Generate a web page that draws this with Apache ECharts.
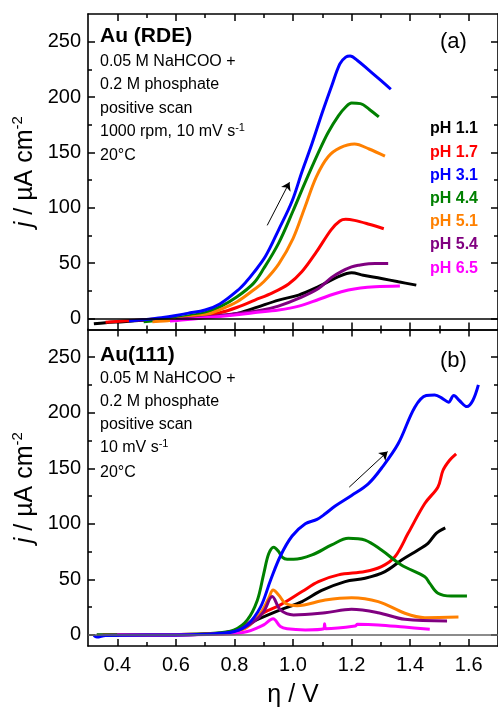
<!DOCTYPE html>
<html>
<head>
<meta charset="utf-8">
<script src="https://cdn.jsdelivr.net/npm/echarts@6/dist/echarts.min.js"></script>
<style>
html,body{margin:0;padding:0;background:#fff;}
#chart{width:498px;height:711px;}
</style>
</head>
<body>
<div id="chart"></div>
<script>
// ---------- DATA ----------
const seriesNames = ['pH 1.1','pH 1.7','pH 3.1','pH 4.4','pH 5.1','pH 5.4','pH 6.5'];
const seriesColors = ['#000000','#ff0000','#0000ff','#008000','#ff8000','#800080','#ff00ff'];

const xMajorTicks = [0.4,0.6,0.8,1.0,1.2,1.4,1.6];
const xMinorTicks = [0.5,0.7,0.9,1.1,1.3,1.5];
const yMajorTicks = [0,50,100,150,200,250];
const yMinorTicks = [25,75,125,175,225];

// (a) Au (RDE)
const topPH11 = [[0.32,-5],[0.36,-4],[0.42,-3],[0.5,-1.5],[0.6,0],[0.7,1.5],[0.8,4],[0.865,9],[0.951,16.5],[1.019,21],[1.087,28.6],[1.155,37.6],[1.2,41.2],[1.24,39],[1.302,36],[1.36,33],[1.421,30]];
const topPH17 = [[0.36,-3.5],[0.42,-2.5],[0.5,-1.2],[0.6,0.3],[0.68,2],[0.75,5],[0.81,10],[0.87,16.5],[0.93,23],[0.985,31],[1.03,42],[1.08,60],[1.13,80],[1.16,88],[1.18,89.5],[1.21,88.5],[1.26,85],[1.31,81]];
const topPH31 = [[0.44,-2.5],[0.5,-1],[0.55,0.5],[0.6,2.5],[0.64,4.5],[0.7,7.5],[0.75,13],[0.81,25],[0.84,33],[0.865,41],[0.906,56],[0.951,80],[0.997,106],[1.03,132],[1.065,158],[1.1,186],[1.132,210],[1.16,230],[1.18,236],[1.195,237],[1.22,233],[1.26,224],[1.3,215],[1.334,207]];
const topPH44 = [[0.49,-3],[0.55,-1.5],[0.6,0],[0.65,2.5],[0.7,5],[0.752,10.5],[0.809,19.5],[0.865,31.6],[0.9,45],[0.951,68],[1.0,97],[1.04,122],[1.087,150],[1.12,168],[1.155,183],[1.18,191],[1.2,194.5],[1.23,194],[1.26,189],[1.293,182]];
const topPH51 = [[0.52,-3],[0.56,-2.5],[0.6,-1],[0.65,1],[0.7,3],[0.752,8],[0.809,15],[0.865,25.6],[0.9,33],[0.951,49],[1.0,72],[1.04,100],[1.08,128],[1.12,146],[1.16,154],[1.21,157.5],[1.26,153],[1.314,146.5]];
const topPH54 = [[0.6,-1],[0.7,1],[0.816,4.5],[0.895,7.5],[0.95,11],[1.019,18],[1.087,27],[1.132,37],[1.166,42.5],[1.2,46.5],[1.223,48],[1.28,49.5],[1.325,49.5]];
const topPH65 = [[0.58,-2.5],[0.62,-1.5],[0.7,0.5],[0.8,3],[0.865,5],[0.951,7.5],[1.02,11],[1.087,17],[1.14,22],[1.189,25.6],[1.23,27.5],[1.28,28.6],[1.365,29.2]];

// (b) Au(111)
const botPH11 = [[0.33,0],[0.5,0],[0.7,0.5],[0.8,3.5],[0.872,13],[0.957,22.5],[1.031,30],[1.098,40],[1.178,48],[1.246,51],[1.314,57],[1.371,67.4],[1.427,76.4],[1.461,82.4],[1.489,91.4],[1.52,96.4]];
const botPH17 = [[0.35,0],[0.5,0],[0.65,0.5],[0.75,1.5],[0.8,4],[0.85,11],[0.9,20],[0.957,27],[1.031,39],[1.087,47.9],[1.155,54],[1.246,57],[1.302,61.4],[1.348,70.3],[1.393,91.4],[1.45,118.3],[1.495,133.2],[1.512,148],[1.534,157],[1.557,163]];
const botPH31 = [[0.32,-0.5],[0.33,-2],[0.36,-0.5],[0.5,0],[0.6,0],[0.7,0.5],[0.75,1.5],[0.8,3],[0.844,9],[0.889,25],[0.923,49],[0.957,71],[0.997,89],[1.042,100],[1.082,104],[1.11,109],[1.144,116],[1.2,125.5],[1.257,136],[1.302,150],[1.359,172],[1.416,205],[1.455,215.5],[1.484,216],[1.512,212.5],[1.531,209.5],[1.549,215.5],[1.568,211],[1.594,205.5],[1.614,211],[1.633,225]];
const botPH44 = [[0.33,0],[0.5,0],[0.65,0.5],[0.75,2],[0.8,4.5],[0.844,13.5],[0.878,31],[0.9,55],[0.917,73],[0.934,79],[0.951,75],[0.963,70],[0.98,68],[1.002,68],[1.065,72],[1.132,81],[1.189,87],[1.246,85.3],[1.302,76.4],[1.37,63],[1.45,52.4],[1.467,46.4],[1.495,37.5],[1.54,35],[1.594,35]];
const botPH51 = [[0.4,0],[0.6,0],[0.75,1],[0.8,2.5],[0.844,7],[0.889,19.5],[0.917,33],[0.932,40.4],[0.951,36],[0.974,28.5],[1.014,26.3],[1.11,31.4],[1.2,33.5],[1.291,30],[1.382,19.5],[1.45,15.5],[1.565,16]];
const botPH54 = [[0.4,0],[0.6,0],[0.75,1],[0.8,2.5],[0.867,12],[0.9,21],[0.929,34.5],[0.957,22.5],[1.002,18],[1.11,20],[1.2,23],[1.291,20],[1.382,14],[1.526,12.6]];
const botPH65 = [[0.4,0],[0.6,0],[0.8,1],[0.844,3],[0.884,7],[0.9,9],[0.932,14.5],[0.957,7.5],[0.98,5.5],[1.042,4.5],[1.105,5.5],[1.108,10],[1.112,5.5],[1.212,8],[1.22,9.5],[1.291,9],[1.38,7],[1.467,5]];

const topArrow = [[0.912,84],[0.988,123]];
const botArrow = [[1.192,133],[1.323,165]];

// ---------- CHART ----------
const FF = "'Liberation Sans', Arial, Helvetica, sans-serif";
const chart = echarts.init(document.getElementById('chart'), null, {renderer:'canvas'});

const grids = [
  {left:88, top:14, width:412, height:315.4},
  {left:88, top:329.4, width:412, height:316.6}
];

function xAx(g, pos, ticks, len, line, labels, name) {
  const a = {
    type:'value', gridIndex:g, position:pos, min:0.3, max:1.7,
    axisLine:{show:line, onZero:false, lineStyle:{color:'#000', width:1.6}},
    axisTick:{show:true, inside:true, length:len, customValues:ticks, lineStyle:{color:'#000', width:1.5}},
    axisLabel:{show:labels, customValues:xMajorTicks, margin:9, color:'#000', fontSize:20, fontFamily:FF,
      formatter:v=>v.toFixed(1)},
    splitLine:{show:false}
  };
  if (name) {
    a.name = 'η / V'; a.nameLocation = 'middle'; a.nameGap = 37;
    a.nameTextStyle = {color:'#000', fontSize:25, fontFamily:FF};
  }
  return a;
}
function yAx(g, pos, ticks, len, line, labels, name) {
  const a = {
    type:'value', gridIndex:g, position:pos, min:-10, max:275,
    axisLine:{show:line, onZero:false, lineStyle:{color:'#000', width:1.6}},
    axisTick:{show:true, inside:true, length:len, customValues:ticks, lineStyle:{color:'#000', width:1.5}},
    axisLabel:{show:labels, customValues:yMajorTicks, margin:7, color:'#000', fontSize:20, fontFamily:FF},
    splitLine:{show:false}
  };
  if (name) {
    a.name = '{i|j} / µA cm{sup|-2}';
    a.nameLocation = 'middle'; a.nameGap = 48; a.nameRotate = 90; a.nameMoveOverlap = false;
    a.nameTextStyle = {color:'#000', fontSize:25, fontFamily:FF, lineHeight:30,
      rich:{
        i:{fontStyle:'italic', fontSize:25, fontFamily:FF, color:'#000', lineHeight:30},
        sup:{fontSize:15, fontFamily:FF, color:'#000', lineHeight:16, verticalAlign:'top'}
      }};
  }
  return a;
}

const xAxes = [];
const yAxes = [];
for (let g=0; g<2; g++) {
  xAxes.push(xAx(g,'bottom',xMajorTicks,7,true,g===1,g===1));
  xAxes.push(xAx(g,'bottom',xMinorTicks,4,false,false,false));
  xAxes.push(xAx(g,'top',xMajorTicks,7,true,false,false));
  xAxes.push(xAx(g,'top',xMinorTicks,4,false,false,false));
  yAxes.push(yAx(g,'left',yMajorTicks,7,true,true,true));
  yAxes.push(yAx(g,'left',yMinorTicks,4,false,false,false));
  yAxes.push(yAx(g,'right',yMajorTicks,7,true,false,false));
  yAxes.push(yAx(g,'right',yMinorTicks,4,false,false,false));
}

const topData = [topPH11,topPH17,topPH31,topPH44,topPH51,topPH54,topPH65];
const botData = [botPH11,botPH17,botPH31,botPH44,botPH51,botPH54,botPH65];

const series = [];
function addSeries(dataArr, g) {
  dataArr.forEach((d,i)=>{
    series.push({
      name:seriesNames[i], type:'line', xAxisIndex:4*g, yAxisIndex:4*g,
      data:d, showSymbol:false, symbol:'none', smooth:0.35,
      lineStyle:{color:seriesColors[i], width:3}, itemStyle:{color:seriesColors[i]},
      z: 3 + (i===2 ? 1 : 0)
    });
  });
}
addSeries(topData,0);
addSeries(botData,1);

series.push({
  type:'line', xAxisIndex:0, yAxisIndex:0, data:[], silent:true, z:5,
  markLine:{silent:true, animation:false, symbol:['none','none'], label:{show:false},
    lineStyle:{color:'#000', width:1.5, type:'solid'},
    data:[ {yAxis:0} ]}
});
series.push({
  type:'line', xAxisIndex:0, yAxisIndex:0, data:[], silent:true, z:5,
  markLine:{silent:true, animation:false, symbol:['none','arrow'], symbolSize:8, label:{show:false},
    lineStyle:{color:'#000', width:1, type:'solid'},
    data:[[{coord:topArrow[0]},{coord:topArrow[1]}]]}
});
series.push({
  type:'line', xAxisIndex:4, yAxisIndex:4, data:[], silent:true, z:1,
  markLine:{silent:true, animation:false, symbol:['none','none'], label:{show:false},
    lineStyle:{color:'#666', width:1.5, type:'solid'},
    data:[ {yAxis:0} ]}
});
series.push({
  type:'line', xAxisIndex:4, yAxisIndex:4, data:[], silent:true, z:5,
  markLine:{silent:true, animation:false, symbol:['none','arrow'], symbolSize:8, label:{show:false},
    lineStyle:{color:'#000', width:1, type:'solid'},
    data:[[{coord:botArrow[0]},{coord:botArrow[1]}]]}
});

function txt(x, y, text, size, bold, rich) {
  return {type:'text', x:x, y:y, silent:true, z:10,
    style:{text:text, fontSize:size, fontFamily:FF, fontWeight:bold?'bold':'normal', fill:'#000',
      align:'left', verticalAlign:'middle', lineHeight:20,
      rich: rich || undefined}};
}
const supRich = {sup:{fontSize:11, fontFamily:FF, fill:'#000', lineHeight:11, verticalAlign:'top'}};

const graphics = [
  txt(100, 36, 'Au (RDE)', 21, true),
  txt(100, 61.5, '0.05 M NaHCOO +', 16, false),
  txt(100, 85, '0.2 M phosphate', 16, false),
  txt(100, 108.5, 'positive scan', 16, false),
  txt(100, 132, '1000 rpm, 10 mV s{sup|-1}', 16, false, supRich),
  txt(100, 156, '20°C', 16, false),
  txt(440, 42, '(a)', 22, false),
  txt(100, 355, 'Au(111)', 21, true),
  txt(100, 378.5, '0.05 M NaHCOO +', 16, false),
  txt(100, 402, '0.2 M phosphate', 16, false),
  txt(100, 425, 'positive scan', 16, false),
  txt(100, 448, '10 mV s{sup|-1}', 16, false, supRich),
  txt(100, 473, '20°C', 16, false),
  txt(440, 361, '(b)', 22, false)
];

chart.setOption({
  animation:false,
  backgroundColor:'#fff',
  grid:grids,
  xAxis:xAxes,
  yAxis:yAxes,
  legend:{
    show:true, orient:'vertical', left:425, top:121, icon:'none', itemWidth:0, itemHeight:16,
    itemGap:7.2, selectedMode:false, padding:0,
    textStyle:{fontSize:16, fontWeight:'bold', fontFamily:FF, lineHeight:16},
    data: seriesNames.map((n,i)=>({name:n, textStyle:{color:seriesColors[i], fontSize:16, fontWeight:'bold', fontFamily:FF}}))
  },
  graphic:graphics,
  series:series
});
</script>
</body>
</html>
